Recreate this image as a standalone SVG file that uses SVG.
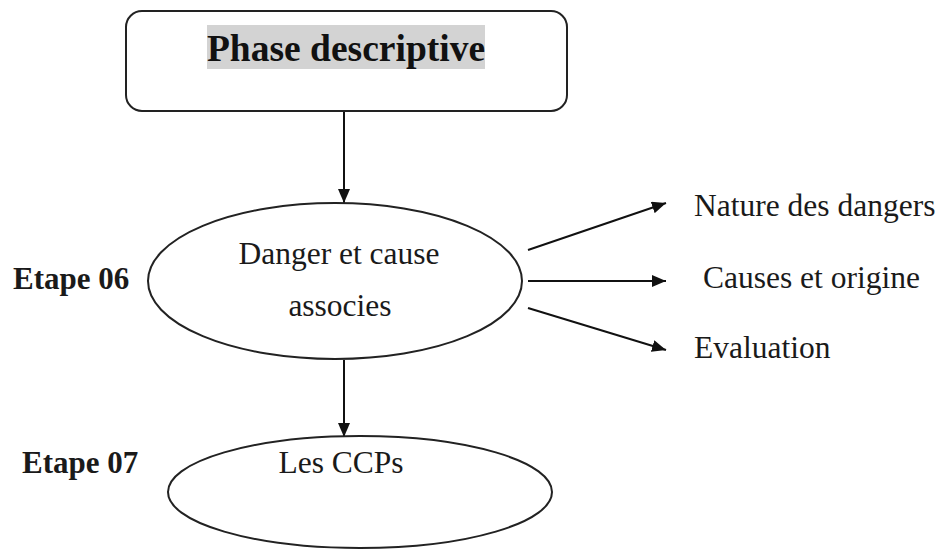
<svg xmlns="http://www.w3.org/2000/svg" width="944" height="551" viewBox="0 0 944 551">
<style>
.shape{fill:#fff;stroke:#222;stroke-width:2}
.t{font-family:"Liberation Serif","Times New Roman",serif;fill:#1a1a1a;font-size:31.5px}
.b{font-weight:bold;font-size:31px}
.title{font-weight:bold;font-size:37.5px;fill:#111}
.c{stroke:#111;stroke-width:2;fill:none;marker-end:url(#ah)}
</style>
<defs>
<marker id="ah" viewBox="0 0 14 12" refX="14" refY="6" markerWidth="14" markerHeight="12" markerUnits="userSpaceOnUse" orient="auto">
<path d="M0,0 L14,6 L0,12 z" fill="#111"/>
</marker>
</defs>
<rect width="944" height="551" fill="#fff"/>
<g id="connectors">
<line class="c" x1="344" y1="112" x2="344" y2="203"/>
<line class="c" x1="344" y1="360" x2="344" y2="437"/>
<line class="c" x1="528" y1="250" x2="666" y2="203"/>
<line class="c" x1="528" y1="281" x2="666" y2="281"/>
<line class="c" x1="528" y1="308" x2="666" y2="350"/>
</g>
<g id="phase">
<rect class="shape" x="126" y="11" width="441" height="100" rx="16"/>
<rect x="207" y="25" width="278" height="44" fill="#d3d3d3"/>
<text class="t title" x="346" y="61" text-anchor="middle">Phase descriptive</text>
</g>
<g id="etape06">
<text class="t b" x="13" y="289">Etape 06</text>
</g>
<g id="danger">
<ellipse class="shape" cx="335" cy="281" rx="187" ry="78"/>
<text class="t" x="339" y="264" text-anchor="middle">Danger et cause</text>
<text class="t" x="340" y="316" text-anchor="middle">associes</text>
</g>
<g id="nature"><text class="t" x="694" y="216">Nature des dangers</text></g>
<g id="causes"><text class="t" x="703" y="288">Causes et origine</text></g>
<g id="evaluation"><text class="t" x="694" y="358">Evaluation</text></g>
<g id="etape07">
<text class="t b" x="22" y="473">Etape 07</text>
</g>
<g id="ccps">
<ellipse class="shape" cx="360" cy="492" rx="192" ry="56"/>
<text class="t" x="341" y="473" text-anchor="middle">Les CCPs</text>
</g>
</svg>
